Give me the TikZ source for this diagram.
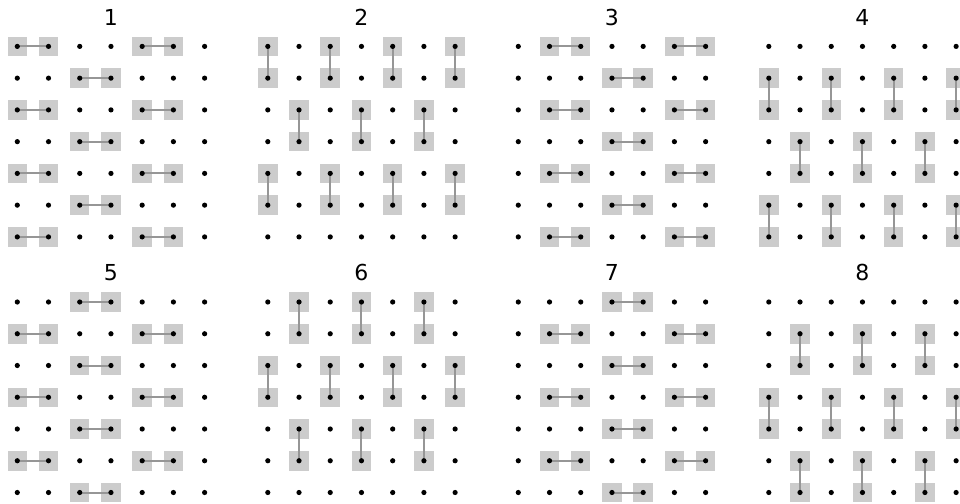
\documentclass[tikz,border=0pt]{standalone}
\usepackage{fontspec}
\setmainfont{DejaVu Sans}
\definecolor{boxgray}{RGB}{204,204,204}
\definecolor{linkgray}{RGB}{150,150,150}
\tikzset{
  sqbox/.style={fill=boxgray, draw=none, minimum size=19.5pt, inner sep=0pt, shape=rectangle},
  link/.style={draw=linkgray, line width=2pt},
  dotnode/.style={fill=black, draw=none, circle, minimum size=5.2pt, inner sep=0pt},
  paneltitle/.style={font=\fontsize{22}{26}\selectfont, text=black, inner sep=0pt, anchor=center}
}
\begin{document}
\begin{tikzpicture}[x=1pt,y=-1pt]
\useasboundingbox (0,0) rectangle (960,503);
\def\dx{31.22}
\def\dy{31.75}
% coordinates of all grid points and panel titles
\foreach \p in {1,...,8}{
  \pgfmathtruncatemacro\k{mod(\p-1,4)}
  \pgfmathtruncatemacro\j{(\p-1)/4}
  \pgfmathsetmacro\xo{17.3+250.5*\k}
  \pgfmathsetmacro\yo{46.4+255.6*\j}
  \node[paneltitle] (t\p) at (\xo+3*\dx,\yo-29.2) {\p};
  \foreach \r in {0,...,6}{
    \foreach \c in {0,...,6}{
      \coordinate (c\p-\r-\c) at (\xo+\c*\dx,\yo+\r*\dy);
    }
  }
}
% horizontal pairs: panel/row/startcol
\foreach \p/\r/\c in {
  1/0/0,1/0/4,1/1/2,1/2/0,1/2/4,1/3/2,1/4/0,1/4/4,1/5/2,1/6/0,1/6/4,
  3/0/1,3/0/5,3/1/3,3/2/1,3/2/5,3/3/3,3/4/1,3/4/5,3/5/3,3/6/1,3/6/5,
  5/0/2,5/1/0,5/1/4,5/2/2,5/3/0,5/3/4,5/4/2,5/5/0,5/5/4,5/6/2,
  7/0/3,7/1/1,7/1/5,7/2/3,7/3/1,7/3/5,7/4/3,7/5/1,7/5/5,7/6/3}{
  \pgfmathtruncatemacro\cc{\c+1}
  \node[sqbox] (s\p-\r-\c) at (c\p-\r-\c) {};
  \node[sqbox] (s\p-\r-\cc) at (c\p-\r-\cc) {};
  \draw[link] (s\p-\r-\c.center) -- (s\p-\r-\cc.center);
}
% vertical pairs: panel/startrow/col
\foreach \p/\r/\c in {
  2/0/0,2/0/2,2/0/4,2/0/6,2/2/1,2/2/3,2/2/5,2/4/0,2/4/2,2/4/4,2/4/6,
  4/1/0,4/1/2,4/1/4,4/1/6,4/3/1,4/3/3,4/3/5,4/5/0,4/5/2,4/5/4,4/5/6,
  6/0/1,6/0/3,6/0/5,6/2/0,6/2/2,6/2/4,6/2/6,6/4/1,6/4/3,6/4/5,
  8/1/1,8/1/3,8/1/5,8/3/0,8/3/2,8/3/4,8/3/6,8/5/1,8/5/3,8/5/5}{
  \pgfmathtruncatemacro\rr{\r+1}
  \node[sqbox] (s\p-\r-\c) at (c\p-\r-\c) {};
  \node[sqbox] (s\p-\rr-\c) at (c\p-\rr-\c) {};
  \draw[link] (s\p-\r-\c.center) -- (s\p-\rr-\c.center);
}
% dots
\foreach \p in {1,...,8}{
  \foreach \r in {0,...,6}{
    \foreach \c in {0,...,6}{
      \node[dotnode] (d\p-\r-\c) at (c\p-\r-\c) {};
    }
  }
}
\end{tikzpicture}
\end{document}
